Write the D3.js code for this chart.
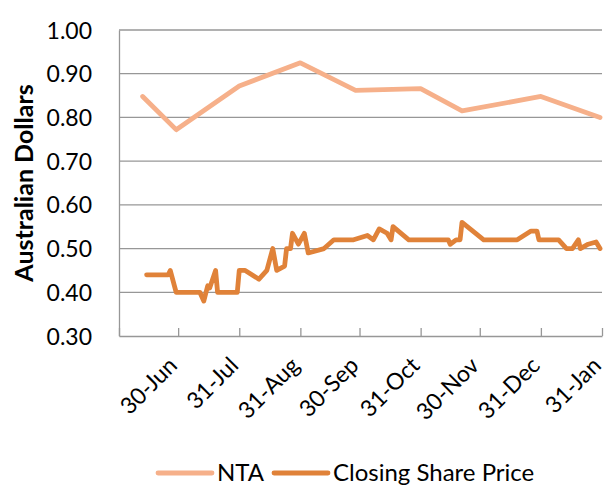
<!DOCTYPE html>
<html>
<head>
<meta charset="utf-8">
<script src="https://cdn.jsdelivr.net/npm/d3@7"></script>
<style>
  body { margin: 0; background: #fff; }
  text { font-family: Lato, "Open Sans", sans-serif; fill: #000; }
</style>
</head>
<body>
<script>
// NTA per share
var ntaDates = ["2012-06-12", "2012-06-29", "2012-07-31", "2012-08-31", "2012-09-28",
                "2012-10-31", "2012-11-21", "2012-12-31", "2013-01-30"];
var ntaValues = [0.848, 0.772, 0.872, 0.925, 0.862, 0.866, 0.815, 0.848, 0.800];

// closing share price
var priceDates = ["2012-06-14", "2012-06-25", "2012-06-26", "2012-06-29", "2012-07-11",
                  "2012-07-13", "2012-07-15", "2012-07-16", "2012-07-19", "2012-07-20",
                  "2012-07-30", "2012-07-31", "2012-08-03", "2012-08-10", "2012-08-14",
                  "2012-08-17", "2012-08-19", "2012-08-23", "2012-08-24", "2012-08-26",
                  "2012-08-27", "2012-08-30", "2012-09-02", "2012-09-04", "2012-09-12",
                  "2012-09-17", "2012-09-27", "2012-10-04", "2012-10-07", "2012-10-10",
                  "2012-10-14", "2012-10-16", "2012-10-17", "2012-10-25", "2012-11-14",
                  "2012-11-15", "2012-11-18", "2012-11-20", "2012-11-21", "2012-12-02",
                  "2012-12-19", "2012-12-26", "2012-12-29", "2012-12-30", "2013-01-09",
                  "2013-01-13", "2013-01-16", "2013-01-19", "2013-01-20", "2013-01-24",
                  "2013-01-28", "2013-01-30"];
var priceValues = [0.44, 0.44, 0.45, 0.40, 0.40,
                   0.38, 0.415, 0.41, 0.45, 0.40,
                   0.40, 0.45, 0.45, 0.43, 0.45,
                   0.50, 0.45, 0.46, 0.50, 0.50,
                   0.535, 0.51, 0.535, 0.49, 0.50,
                   0.52, 0.52, 0.53, 0.52, 0.545,
                   0.535, 0.52, 0.55, 0.52, 0.52,
                   0.51, 0.52, 0.52, 0.56, 0.52,
                   0.52, 0.54, 0.54, 0.52, 0.52,
                   0.50, 0.50, 0.52, 0.50, 0.51,
                   0.515, 0.50];

// month-end ticks
var tickDates = ["2012-05-31", "2012-06-30", "2012-07-31", "2012-08-31", "2012-09-30",
                 "2012-10-31", "2012-11-30", "2012-12-31", "2013-01-31"];
var tickLabels = ["", "30-Jun", "31-Jul", "31-Aug", "30-Sep", "31-Oct", "30-Nov", "31-Dec", "31-Jan"];
var yTicks = [0.30, 0.40, 0.50, 0.60, 0.70, 0.80, 0.90, 1.00];

var seriesNames = ["NTA", "Closing Share Price"];
var seriesColors = ["#f6b08a", "#e08239"];

var width = 607,
    height = 487;

var svg = d3.select("body")
    .append("svg")
    .attr("width", width)
    .attr("height", height);

var parse = d3.timeParse("%Y-%m-%d");

var x = d3.scaleTime()
    .domain([parse(tickDates[0]), parse(tickDates[tickDates.length - 1])])
    .range([119, 602]);

var y = d3.scaleLinear()
    .domain([0.30, 1.00])
    .range([336, 30]);

//gridlines
svg.append("g")
    .selectAll("line")
    .data(yTicks.slice(1))
    .enter()
    .append("line")
    .attr("x1", 119)
    .attr("x2", 602)
    .attr("y1", function(d){ return y(d); })
    .attr("y2", function(d){ return y(d); })
    .attr("stroke", "#979797")
    .attr("stroke-width", 1.3);

//y axis
var yAxis = svg.append("g")
    .attr("transform", "translate(119,0)")
    .call(d3.axisLeft(y).tickValues(yTicks).tickSize(0).tickPadding(27).tickFormat(d3.format(".2f")));
yAxis.select(".domain").attr("stroke", "#979797").attr("stroke-width", 1.3);
yAxis.selectAll("text").style("font-size", "23px").attr("dy", "0.35em");

//x axis, ticks point into the plot
var xAxis = svg.append("g")
    .attr("transform", "translate(0,336)")
    .call(d3.axisBottom(x)
        .tickValues(tickDates.map(parse))
        .tickSize(-8)
        .tickSizeOuter(0)
        .tickFormat(function(d, i){ return tickLabels[i]; }));
xAxis.select(".domain").attr("stroke", "#979797").attr("stroke-width", 1.3);
xAxis.selectAll(".tick line").attr("stroke", "#979797").attr("stroke-width", 1.3);
xAxis.selectAll("text")
    .style("font-size", "23px")
    .attr("text-anchor", "end")
    .attr("dy", null)
    .attr("y", 0)
    .attr("transform", "translate(0,31) rotate(-45)");

svg.append("text")
    .attr("transform", "translate(33,183) rotate(-90)")
    .attr("text-anchor", "middle")
    .style("font-size", "25px")
    .style("font-weight", "bold")
    .text("Australian Dollars");

var line = d3.line()
    .x(function(d){ return x(d.date); })
    .y(function(d){ return y(d.value); });

var ntaData = ntaDates.map(function(d, i){ return {date: parse(d), value: ntaValues[i]}; });
var priceData = priceDates.map(function(d, i){ return {date: parse(d), value: priceValues[i]}; });

[ntaData, priceData].forEach(function(series, i){
    svg.append("path")
        .datum(series)
        .attr("fill", "none")
        .attr("stroke", seriesColors[i])
        .attr("stroke-width", 4.8)
        .attr("stroke-linejoin", "round")
        .attr("stroke-linecap", "round")
        .attr("d", line);
});

//legend
var legendX = [158, 274];
var legend = svg.append("g");
seriesNames.forEach(function(name, i){
    legend.append("line")
        .attr("x1", legendX[i])
        .attr("x2", legendX[i] + 54)
        .attr("y1", 473)
        .attr("y2", 473)
        .attr("stroke", seriesColors[i])
        .attr("stroke-width", 4.8)
        .attr("stroke-linecap", "round");
    legend.append("text")
        .attr("x", legendX[i] + 59)
        .attr("y", 473)
        .attr("dy", "0.35em")
        .style("font-size", "24px")
        .text(name);
});
</script>
</body>
</html>
